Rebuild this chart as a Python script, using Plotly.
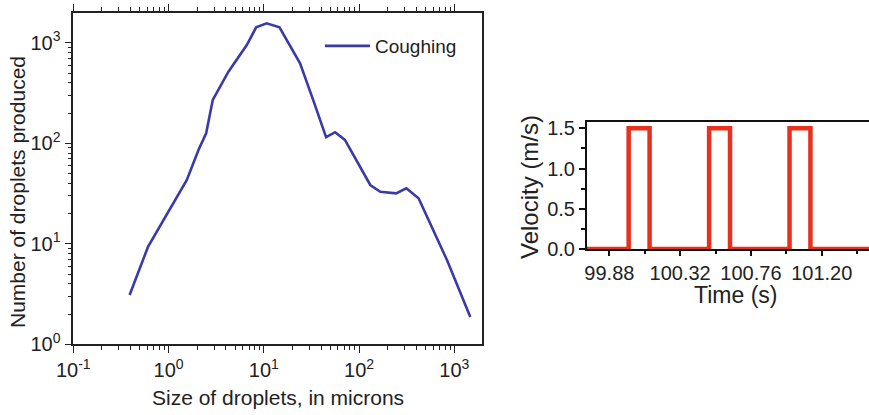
import plotly.graph_objects as go
import numpy as np

# ---- data: left panel (droplet size distribution, coughing) ----
droplet_size = [0.39, 0.61, 1.55, 2.06, 2.48, 2.91, 4.25, 6.62, 8.3, 10.7, 14.6, 24, 33, 45,
                56, 71, 131, 167, 245, 313, 421, 836, 1470]
droplet_count = [3.1, 9.4, 43, 86, 126, 270, 516, 951, 1426, 1563, 1426, 625, 269, 115,
                 129, 108, 38.5, 33, 31.8, 35.7, 28.4, 6.9, 1.87]
series_name = "Coughing"

# ---- data: right panel (square-wave velocity) ----
time_s = [99.74, 100.0, 100.13, 100.5, 100.63, 101.0, 101.13, 101.5]
velocity = [0, 1.5, 0, 1.5, 0, 1.5, 0, 0]

x_ticks_log = [-1, 0, 1, 2, 3]
y_ticks_log = [0, 1, 2, 3]
t_ticks = [99.88, 100.32, 100.76, 101.20]
t_ticklabels = ["99.88", "100.32", "100.76", "101.20"]
v_ticks = [0.0, 0.5, 1.0, 1.5]
v_ticklabels = ["0.0", "0.5", "1.0", "1.5"]

FONT = "Liberation Sans, Arial, Helvetica, sans-serif"
W, H = 869, 415


def pow_label(p):
    s = str(p) if p >= 0 else "-" + str(abs(p))
    return "10<sup>" + s + "</sup>"


def minor_vals(lo, hi):
    out = []
    for k in range(lo, hi + 1):
        for m in range(2, 10):
            out.append(m * 10 ** k)
    return out


fig = go.Figure()

fig.add_trace(go.Scatter(
    x=droplet_size, y=droplet_count, mode="lines", name=series_name,
    line=dict(color="#3a3aa8", width=2.6), xaxis="x", yaxis="y", showlegend=True,
))

fig.add_trace(go.Scatter(
    x=time_s, y=velocity, mode="lines", line_shape="hv",
    line=dict(color="#e8301f", width=4.5), xaxis="x2", yaxis="y2", showlegend=False,
))

# pixel geometry -> paper fractions
L_x0, L_x1, L_yt, L_yb = 73.3, 482, 12.7, 344.3
R_x0, R_x1, R_yt, R_yb = 587, 869, 122, 249

axis_font = dict(family=FONT, size=20, color="#222")

fig.update_layout(
    width=W, height=H,
    margin=dict(l=0, r=0, t=0, b=0, autoexpand=False),
    paper_bgcolor="white", plot_bgcolor="white",
    font=dict(family=FONT, color="#222"),
    xaxis=dict(
        type="log", domain=[L_x0 / W, L_x1 / W], range=[-1, 3.29], automargin=False,
        anchor="y", showline=True, linecolor="#222", linewidth=1.5, mirror="allticks",
        ticks="outside", ticklen=7, tickwidth=1.3, tickcolor="#222",
        tickvals=[10 ** p for p in x_ticks_log], ticktext=[pow_label(p) for p in x_ticks_log],
        tickfont=axis_font, showgrid=False, zeroline=False,
        minor=dict(ticks="outside", ticklen=4, tickwidth=1.1, tickcolor="#222",
                   tickvals=minor_vals(-1, 3), showgrid=False),
    ),
    yaxis=dict(
        type="log", domain=[1 - L_yb / H, 1 - L_yt / H], range=[0, 3.30], automargin=False,
        anchor="x", showline=True, linecolor="#222", linewidth=1.5, mirror=True,
        ticks="outside", ticklen=7, tickwidth=1.3, tickcolor="#222",
        tickvals=[10 ** p for p in y_ticks_log], ticktext=[pow_label(p) for p in y_ticks_log],
        tickfont=axis_font, showgrid=False, zeroline=False,
        minor=dict(ticks="outside", ticklen=4, tickwidth=1.1, tickcolor="#222",
                   tickvals=minor_vals(0, 3), showgrid=False),
    ),
    xaxis2=dict(
        domain=[R_x0 / W, R_x1 / W], range=[99.741, 101.494], automargin=False,
        anchor="y2", showline=True, linecolor="#111", linewidth=2, mirror=True,
        ticks="outside", ticklen=5, tickwidth=2, tickcolor="#111",
        tickvals=t_ticks, ticktext=t_ticklabels,
        tickfont=dict(family=FONT, size=20, color="#222"), showgrid=False, zeroline=False,
        layer="below traces",
        minor=dict(ticks="outside", ticklen=3, tickwidth=1.5, tickcolor="#111",
                   dtick=0.22, tick0=99.88, showgrid=False),
    ),
    yaxis2=dict(
        domain=[1 - R_yb / H, 1 - R_yt / H], range=[0, 1.578], automargin=False,
        anchor="x2", showline=True, linecolor="#111", linewidth=2, mirror=False,
        ticks="outside", ticklen=6, tickwidth=2, tickcolor="#111",
        tickvals=v_ticks, ticktext=v_ticklabels,
        tickfont=dict(family=FONT, size=20, color="#222"), showgrid=False, zeroline=False,
        layer="below traces",
        minor=dict(ticks="outside", ticklen=4, tickwidth=1.5, tickcolor="#111",
                   dtick=0.25, tick0=0, showgrid=False),
    ),
    legend=dict(
        x=320 / W, y=1 - 27 / H, xanchor="left", yanchor="top",
        bgcolor="rgba(0,0,0,0)", borderwidth=0, itemwidth=45,
        font=dict(family=FONT, size=19, color="#222"),
    ),
    annotations=[
        dict(text="Size of droplets, in microns", x=278 / W, y=1 - 397 / H,
             xref="paper", yref="paper", showarrow=False,
             font=dict(family=FONT, size=21, color="#222"), xanchor="center", yanchor="middle"),
        dict(text="Number of droplets produced", x=17 / W, y=1 - 192 / H,
             xref="paper", yref="paper", showarrow=False, textangle=-90,
             font=dict(family=FONT, size=21, color="#222"), xanchor="center", yanchor="middle"),
        dict(text="Velocity (m/s)", x=530 / W, y=1 - 187 / H,
             xref="paper", yref="paper", showarrow=False, textangle=-90,
             font=dict(family=FONT, size=24, color="#222"), xanchor="center", yanchor="middle"),
        dict(text="Time (s)", x=735 / W, y=1 - 295 / H,
             xref="paper", yref="paper", showarrow=False,
             font=dict(family=FONT, size=23, color="#222"), xanchor="center", yanchor="middle"),
    ],
)

fig.write_html(
    "out.html",
    config={"displayModeBar": False},
    post_script="document.body.style.margin='0';document.body.style.overflow='hidden';",
)
